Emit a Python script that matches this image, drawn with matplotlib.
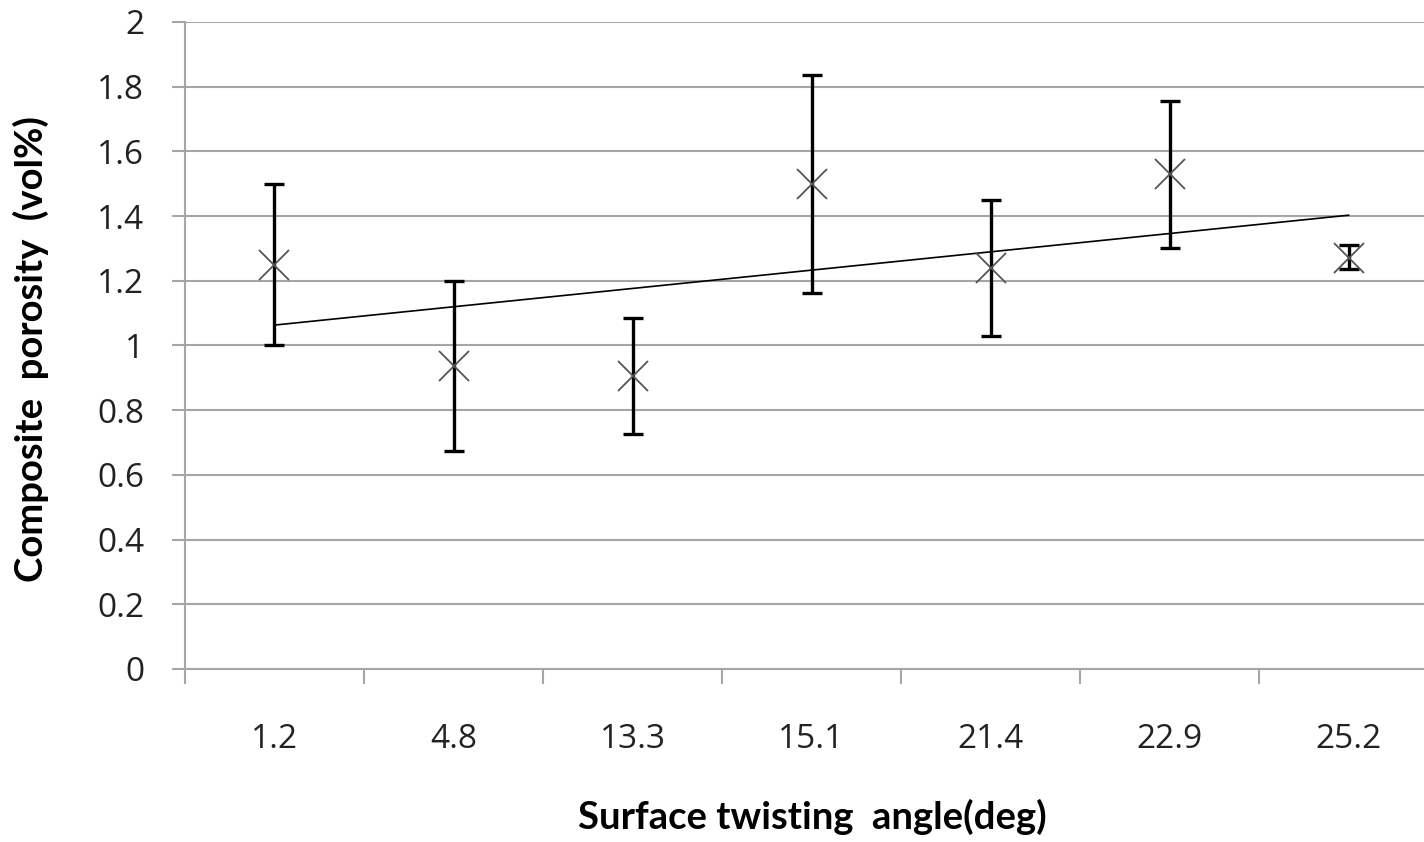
import numpy as np
import matplotlib
matplotlib.use("Agg")
import matplotlib.pyplot as plt

# data
angles = ["1.2", "4.8", "13.3", "15.1", "21.4", "22.9", "25.2"]
porosity = [1.25, 0.935, 0.905, 1.50, 1.24, 1.53, 1.27]
err_upper = [1.50, 1.20, 1.085, 1.835, 1.45, 1.757, 1.31]
err_lower = [1.00, 0.675, 0.727, 1.162, 1.03, 1.30, 1.235]

x = np.arange(1, len(angles) + 1)
y = np.array(porosity)
yerr = np.vstack([y - np.array(err_lower), np.array(err_upper) - y])

fig = plt.figure(figsize=(14.24, 8.42), dpi=100)
ax = fig.add_axes([0.1299, 0.2055, 0.880, 0.7684])

ax.errorbar(x, y, yerr=yerr, fmt="none", ecolor="black", elinewidth=2.4,
            capsize=7, capthick=2.4, zorder=3)
ax.plot(x, y, linestyle="none", marker="x", markersize=22,
        markeredgewidth=1.3, color="#555555", zorder=4)

# linear trendline (least squares over category index)
slope, intercept = np.polyfit(x, y, 1)
ax.plot([x[0], x[-1]], [slope * x[0] + intercept, slope * x[-1] + intercept],
        color="black", linewidth=1.2, zorder=2)

ax.set_xlim(0.5, len(angles) + 0.5)
ax.set_ylim(0, 2)
ax.set_yticks(np.arange(0, 2.01, 0.2))
ax.set_yticklabels(["0", "0.2", "0.4", "0.6", "0.8", "1", "1.2", "1.4",
                    "1.6", "1.8", "2"])
ax.yaxis.grid(True, color="#a6a6a6", linewidth=1.5)
ax.set_axisbelow(True)

# category boundary ticks, labels at centres
ax.set_xticks(np.arange(0.5, len(angles) + 1, 1.0))
ax.set_xticklabels([])
ax.set_xticks(x, minor=True)
ax.set_xticklabels(angles, minor=True)
ax.tick_params(axis="x", which="major", direction="out", length=11,
               width=1.5, color="#a6a6a6")
ax.tick_params(axis="x", which="minor", length=0, pad=39)
ax.tick_params(axis="y", direction="out", length=9.5, width=1.5,
               color="#a6a6a6", pad=20)

for s in ["top", "right"]:
    ax.spines[s].set_visible(False)
for s in ["left", "bottom"]:
    ax.spines[s].set_color("#a6a6a6")
    ax.spines[s].set_linewidth(1.5)

for lab in ax.get_yticklabels() + ax.get_xticklabels(minor=True):
    lab.set_fontfamily("Open Sans")
    lab.set_fontsize(24)
    lab.set_color("#222222")

ax.set_xlabel("Surface twisting  angle(deg)", fontfamily="Lato",
              fontweight="bold", fontsize=27.5)
ax.set_ylabel("Composite  porosity  (vol%)", fontfamily="Lato",
              fontweight="bold", fontsize=27.5)
ax.xaxis.set_label_coords(0.5004, -0.2)
ax.yaxis.set_label_coords(-0.1085, 0.4946)

fig.savefig("out.png", dpi=100)
